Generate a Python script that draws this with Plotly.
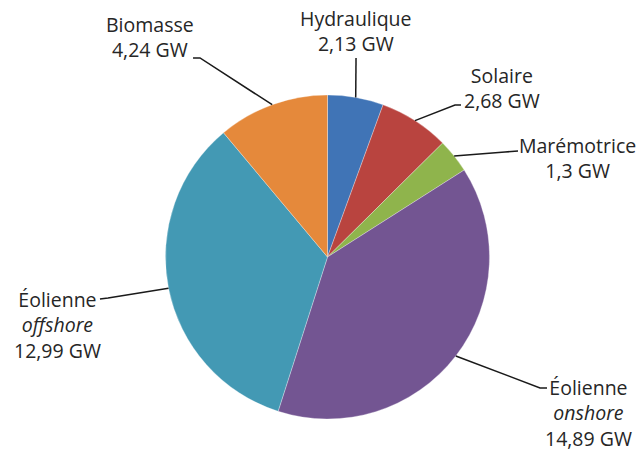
import math
import plotly.graph_objects as go

# données
sources = ["Hydraulique", "Solaire", "Marémotrice", "Éolienne onshore", "Éolienne offshore", "Biomasse"]
puissance_gw = [2.13, 2.68, 1.3, 14.89, 12.99, 4.24]
etiquettes = [
    "Hydraulique<br>2,13 GW",
    "Solaire<br>2,68 GW",
    "Marémotrice<br>1,3 GW",
    "Éolienne<br><i>onshore</i><br>14,89 GW",
    "Éolienne<br><i>offshore</i><br>12,99 GW",
    "Biomasse<br>4,24 GW",
]
couleurs = ["#4074B6", "#B9443F", "#8FB44C", "#735592", "#4399B4", "#E5893B"]

W, H = 640, 452
CX, CY, R = 327.5, 257, 162

# position du texte (centre) et coude du trait de rappel, en pixels
pos_texte = [(356, 31), (502, 88), (577, 158), (588, 413), (57, 325), (150, 37)]
coudes = [[(356, 58)], [(455, 105), (461, 105)], [(505, 152), (518, 151)],
          [(540, 388), (547, 388)], [(108, 298), (100, 299)], [(200, 58), (193, 58)]]


def px(x, y):
    return x / W, 1 - y / H


fig = go.Figure(go.Pie(
    labels=sources,
    values=puissance_gw,
    sort=False,
    direction="clockwise",
    rotation=0,
    textinfo="none",
    marker=dict(colors=couleurs, line=dict(color="#FFFFFF", width=0.3)),
    domain=dict(x=[(CX - R) / W, (CX + R) / W], y=[1 - (CY + R) / H, 1 - (CY - R) / H]),
    showlegend=False,
))

total = sum(puissance_gw)
cumul = 0
shapes, annotations = [], []
for i, v in enumerate(puissance_gw):
    milieu = (cumul + v / 2) / total * 2 * math.pi
    cumul += v
    sx, sy = CX + R * math.sin(milieu), CY - R * math.cos(milieu)
    pts = [(sx, sy)] + coudes[i]
    path = "M " + " L ".join("%.4f,%.4f" % px(x, y) for x, y in pts)
    shapes.append(dict(type="path", xref="paper", yref="paper", path=path,
                       line=dict(color="#1a1a1a", width=1.5)))
    tx, ty = px(*pos_texte[i])
    annotations.append(dict(x=tx, y=ty, xref="paper", yref="paper", text=etiquettes[i],
                            showarrow=False, xanchor="center", yanchor="middle", align="center",
                            font=dict(family="Open Sans", size=19.5, color="#262626")))

fig.update_layout(
    shapes=shapes,
    annotations=annotations,
    width=W,
    height=H,
    paper_bgcolor="#FFFFFF",
    plot_bgcolor="#FFFFFF",
    margin=dict(l=0, r=0, t=0, b=0),
)
fig.write_html("out.html", config={"displayModeBar": False},
               post_script="document.body.style.margin='0';")
